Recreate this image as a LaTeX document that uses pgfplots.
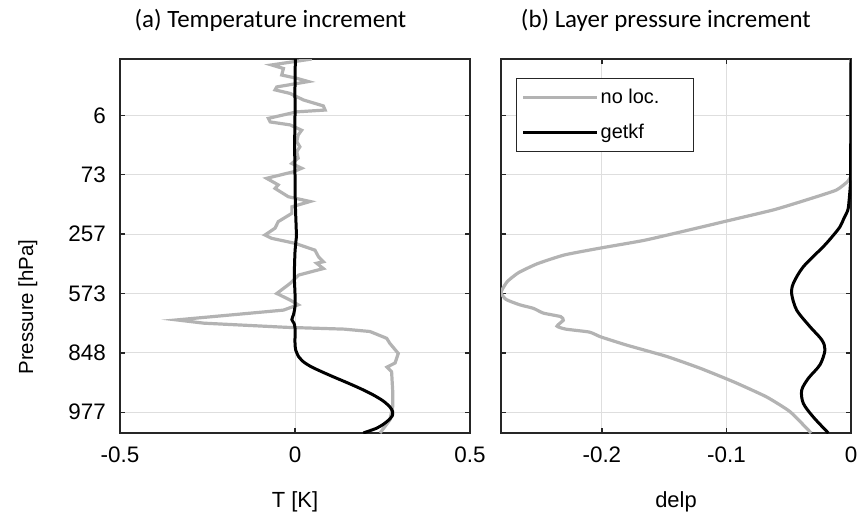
\documentclass[border=0pt]{standalone}
\usepackage{pgfplots}
\pgfplotsset{compat=1.18}
\usepackage{fontspec}
\setmainfont{Liberation Sans}
\newfontfamily\titlefont{Carlito}
\definecolor{nolocgray}{RGB}{179,179,179}
\definecolor{axcol}{RGB}{38,38,38}
\definecolor{gridcol}{RGB}{222,222,222}

\pgfplotstableread{
L T
0.5 0.048
1.5 -0.067
2.1 -0.033
3.2 -0.038
3.75 0.005
4.3 0.038
5.2 -0.052
5.7 -0.057
6.3 -0.014
7.4 0.024
8.4 0.081
9.1 0.086
9.4 0.005
10.5 -0.076
11.1 -0.071
11.6 -0.014
12.5 0.019
13.3 0.009
14.4 0.005
15.3 0.014
16.1 0.005
17.2 0.009
18.1 -0.009
18.9 0.019
19.5 -0.005
20.6 -0.081
21.7 -0.048
22.3 -0.057
23.7 -0.019
24.5 0.043
25.4 -0.009
26.5 -0.009
27.9 -0.048
29.0 -0.057
30.15 -0.086
30.7 -0.067
31.55 0.000
32.7 0.057
33.8 0.067
34.65 0.081
34.9 0.062
35.8 0.081
36.9 0.010
38.3 -0.014
40.0 -0.052
41.1 -0.014
41.9 0.009
42.8 -0.033
44.45 -0.338
45.0 -0.260
45.7 -0.024
46.0 0.140
46.4 0.214
47.55 0.262
48.4 0.271
50.1 0.295
51.7 0.286
52.4 0.263
53.2 0.276
56.3 0.279
59.1 0.279
61.3 0.271
63.5 0.243
}\tnoloc

\pgfplotstableread{
L T
0.5 0.001
5 0.000
10 0.000
15 -0.001
20 0.000
25 0.001
30 0.004
31 0.003
33 0.000
37 -0.002
40 0.000
42.2 0.000
43.5 -0.004
44.4 -0.009
45.0 -0.003
45.8 0.000
48.4 0.000
49.5 0.002
50.6 0.010
51.5 0.024
52.2 0.042
52.9 0.066
54.0 0.108
55.1 0.152
56.1 0.190
57.1 0.224
58.1 0.252
59.1 0.271
59.9 0.279
60.6 0.278
61.3 0.268
62.0 0.253
62.7 0.233
63.5 0.195
}\tgetkf

\pgfplotstableread{
L D
0.5 0
19.5 0
20.6 -0.001
21.2 -0.003
22.6 -0.012
24.25 -0.036
25.9 -0.062
27.9 -0.102
28.85 -0.121
31.0 -0.165
32.3 -0.200
33.5 -0.230
35.0 -0.252
36.5 -0.267
38.0 -0.276
39.8 -0.281
41.0 -0.277
41.9 -0.266
42.5 -0.255
43.3 -0.247
43.9 -0.233
44.5 -0.231
45.5 -0.236
46.0 -0.229
46.5 -0.210
47.3 -0.201
48.7 -0.180
50.6 -0.148
52.6 -0.121
54.9 -0.094
57.4 -0.068
59.9 -0.049
63.5 -0.032
}\dnoloc

\pgfplotstableread{
L D
0.5 0
20 -0.0003
21.7 -0.0005
24.25 -0.0015
25.9 -0.0025
27.3 -0.0056
28.75 -0.0088
30.4 -0.0150
32.1 -0.0222
35.5 -0.0383
38.3 -0.0463
40.1 -0.0476
42.8 -0.0436
45.6 -0.0329
47.8 -0.0235
49.5 -0.0209
52.0 -0.0249
54.3 -0.0343
56.3 -0.0396
58.5 -0.0383
60.8 -0.0303
63.5 -0.0182
}\dgetkf

\pgfplotsset{
  panel/.style={
    scale only axis, width=350bp, height=374bp,
    y dir=reverse, ymin=0.5, ymax=63.5,
    ytick={10,20,30,40,50,60},
    axis line style={draw=axcol, line width=1.3bp},
    tick style={draw=axcol, line width=1.3bp},
    major tick length=5bp, tick align=inside,
    xtick pos=both, ytick pos=both,
    grid=major, grid style={draw=gridcol, line width=0.9bp},
    tick label style={font=\fontsize{22.5}{26}\selectfont},
    xticklabel style={anchor=base, yshift=-29bp},
    label style={font=\fontsize{22}{26}\selectfont},
    xlabel style={at={(axis description cs:0.5,0)}, anchor=base, yshift=-74bp},
    title style={font=\titlefont\fontsize{25}{28}\selectfont, anchor=base, inner sep=0pt},
  }
}

\begin{document}
\begin{tikzpicture}
\path[use as bounding box] (-120bp,-85bp) rectangle (740bp,433bp);
\begin{axis}[panel,
  at={(0,0)}, anchor=south west,
  xmin=-0.5, xmax=0.5,
  xtick={-0.5,0,0.5}, xticklabels={-0.5,0,0.5},
  yticklabels={6,73,257,573,848,977},
  yticklabel style={anchor=east, inner sep=0pt, xshift=-14bp},
  xlabel={T [K]},
  ylabel={Pressure [hPa]},
  ylabel style={at={(axis description cs:-0.263,0.337)}, anchor=center, font=\fontsize{20.5}{24}\selectfont},
  title={(a) Temperature increment},
  title style={at={(axis description cs:0.43,1.067)}},
]
\addplot[nolocgray, line width=3.2bp] table[x=T, y=L] {\tnoloc};
\addplot[black, line width=3bp, smooth, tension=0.4] table[x=T, y=L] {\tgetkf};
\end{axis}
\begin{axis}[panel,
  at={(381bp,0)}, anchor=south west,
  xmin=-0.281, xmax=0,
  xtick={-0.2,-0.1,0}, xticklabels={-0.2,-0.1,0},
  yticklabels={},
  xlabel={delp},
  title={(b) Layer pressure increment},
  title style={at={(axis description cs:0.471,1.067)}},
  legend style={at={(axis description cs:0.043,0.95)}, anchor=north west,
    draw=axcol, line width=1bp, font=\fontsize{20}{23}\selectfont,
    inner xsep=5bp, inner ysep=9bp, row sep=15bp, cells={anchor=west}},
  legend image code/.code={\draw[#1] (0bp,0bp) -- (74bp,0bp);},
]
\addplot[nolocgray, line width=3.2bp, smooth, tension=0.3] table[x=D, y=L] {\dnoloc};
\addlegendentry{\makebox[86bp][l]{no loc.}}
\addplot[black, line width=3bp, smooth, tension=0.5] table[x=D, y=L] {\dgetkf};
\addlegendentry{\makebox[86bp][l]{getkf}}
\end{axis}
\end{tikzpicture}
\end{document}
